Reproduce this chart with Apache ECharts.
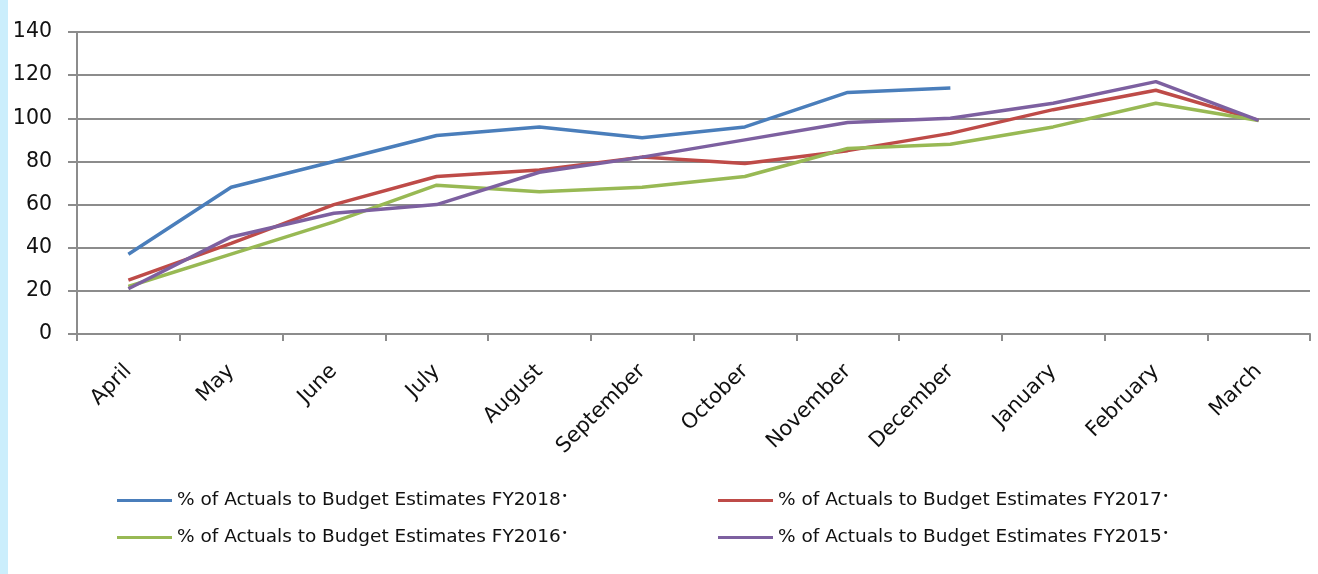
<!DOCTYPE html>
<html>
<head>
<meta charset="utf-8">
<script src="https://cdn.jsdelivr.net/npm/echarts@6/dist/echarts.min.js"></script>
<style>
  html, body { margin: 0; padding: 0; background: #fff; }
  #chart { width: 1318px; height: 574px; }
</style>
</head>
<body>
<div id="chart"></div>
<script>
// months of the fiscal year
const months = ['April', 'May', 'June', 'July', 'August', 'September', 'October', 'November', 'December', 'January', 'February', 'March']
const yTicks = [0, 20, 40, 60, 80, 100, 120, 140]

// % of actuals to budget estimates
const fy2018 = [37, 68, 80, 92, 96, 91, 96, 112, 114, null, null, null]
const fy2017 = [25, 42, 60, 73, 76, 82, 79, 85, 93, 104, 113, 99]
const fy2016 = [22, 37, 52, 69, 66, 68, 73, 86, 88, 96, 107, 99]
const fy2015 = [21, 45, 56, 60, 75, 82, 90, 98, 100, 107, 117, 99]

const names = {
  fy2018: '% of Actuals to Budget Estimates FY2018*',
  fy2017: '% of Actuals to Budget Estimates FY2017*',
  fy2016: '% of Actuals to Budget Estimates FY2016*',
  fy2015: '% of Actuals to Budget Estimates FY2015*'
}

const colors = {
  fy2018: '#4A7EBB',
  fy2017: '#BE4B48',
  fy2016: '#98B954',
  fy2015: '#7D60A0'
}

const font = '"DejaVu Sans", sans-serif'
const axisGrey = '#8C8C8C'

function lineSeries(key, data) {
  return {
    name: names[key],
    type: 'line',
    data: data,
    symbol: 'none',
    animation: false,
    connectNulls: false,
    itemStyle: {color: colors[key]},
    lineStyle: {color: colors[key], width: 3.5}
  }
}

function legendOf(left, keys) {
  return {
    orient: 'vertical',
    left: left,
    top: 491,
    padding: 0,
    itemGap: 18,
    itemWidth: 55,
    itemHeight: 3,
    icon: 'rect',
    selectedMode: false,
    data: keys.map(k => names[k]),
    // the trailing asterisk shows as a small raised dot
    formatter: n => n.slice(0, -1) + '{s|•}',
    textStyle: {
      fontFamily: font,
      fontSize: 18.5,
      color: '#111',
      rich: {s: {fontFamily: font, fontSize: 10, color: '#111', padding: [0, 0, 9, 1]}}
    }
  }
}

const chart = echarts.init(document.getElementById('chart'))
chart.setOption({
  backgroundColor: '#fff',
  animation: false,
  graphic: [{
    type: 'rect',
    left: 0,
    top: 0,
    shape: {width: 8, height: 574},
    style: {fill: '#CBEEFC'}
  }],
  grid: {left: 77, right: 8, top: 32, bottom: 240, containLabel: false},
  legend: [
    legendOf(117, ['fy2018', 'fy2016']),
    legendOf(718, ['fy2017', 'fy2015'])
  ],
  xAxis: {
    type: 'category',
    data: months,
    boundaryGap: true,
    axisLine: {lineStyle: {color: axisGrey, width: 2}},
    axisTick: {show: true, length: 7, lineStyle: {color: axisGrey, width: 2}},
    axisLabel: {
      rotate: 45,
      margin: 34,
      interval: 0,
      fontFamily: font,
      fontSize: 21,
      color: '#111'
    }
  },
  yAxis: {
    type: 'value',
    min: yTicks[0],
    max: yTicks[yTicks.length - 1],
    interval: 20,
    axisLine: {show: true, lineStyle: {color: axisGrey, width: 2}},
    axisTick: {show: true, length: 9, lineStyle: {color: axisGrey, width: 2}},
    splitLine: {lineStyle: {color: axisGrey, width: 2}},
    axisLabel: {
      margin: 25,
      fontFamily: font,
      fontSize: 20.5,
      color: '#111'
    }
  },
  series: [
    lineSeries('fy2018', fy2018),
    lineSeries('fy2017', fy2017),
    lineSeries('fy2016', fy2016),
    lineSeries('fy2015', fy2015)
  ]
})
</script>
</body>
</html>
